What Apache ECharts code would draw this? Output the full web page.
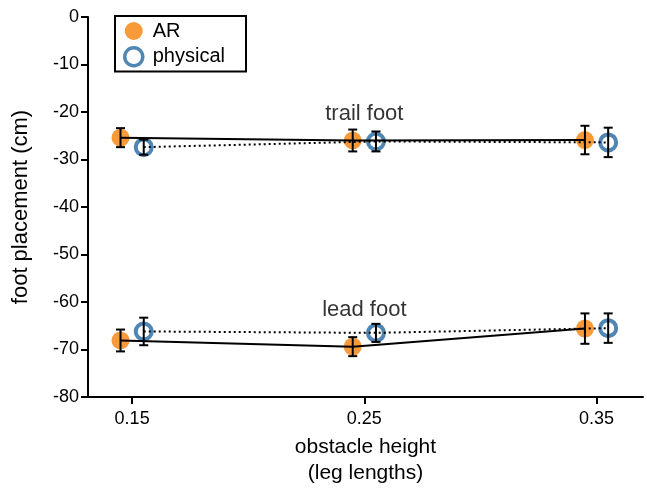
<!DOCTYPE html>
<html><head><meta charset="utf-8">
<script src="https://cdn.jsdelivr.net/npm/echarts@6/dist/echarts.min.js"></script>
<style>html,body{margin:0;padding:0;background:#fff}#c{width:647px;height:491px}</style>
</head><body><div id="c"></div>
<script>
// data
const heights = [0.15, 0.25, 0.35];
const xTicks = [0.15, 0.25, 0.35];
const yTicks = [0, -10, -20, -30, -40, -50, -60, -70, -80];
const arX = [0.145, 0.245, 0.345];
const physX = [0.155, 0.255, 0.355];
const arTrail = [-25.4, -26.0, -25.9];
const arTrailErr = [2.0, 2.3, 3.0];
const physTrail = [-27.4, -26.2, -26.4];
const physTrailErr = [1.6, 2.1, 3.1];
const arLead = [-68.1, -69.4, -65.6];
const arLeadErr = [2.3, 2.0, 3.2];
const physLead = [-66.2, -66.5, -65.5];
const physLeadErr = [2.9, 1.9, 3.1];
const annotations = [["trail foot", 0.25, -20.4], ["lead foot", 0.25, -61.7]];

const ORANGE = '#F99A3A', BLUE = '#4F86B3';
const FONT = '"Liberation Sans", Arial, Helvetica, sans-serif';

const pts = (xs, ys) => xs.map((x, i) => [x, ys[i]]);
const errs = (xs, ys, es) => xs.map((x, i) => [x, ys[i] - es[i], ys[i] + es[i]]);

function errSeries(data) {
  return {
    type: 'custom', z: 5, silent: true,
    renderItem: function (params, api) {
      const x = api.value(0);
      const lo = api.coord([x, api.value(1)]);
      const hi = api.coord([x, api.value(2)]);
      const w = 4.5;
      const st = { stroke: '#000', lineWidth: 2 };
      return { type: 'group', children: [
        { type: 'line', shape: { x1: lo[0], y1: lo[1], x2: hi[0], y2: hi[1] }, style: st },
        { type: 'line', shape: { x1: lo[0] - w, y1: lo[1], x2: lo[0] + w, y2: lo[1] }, style: st },
        { type: 'line', shape: { x1: hi[0] - w, y1: hi[1], x2: hi[0] + w, y2: hi[1] }, style: st }
      ]};
    },
    encode: { x: 0, y: [1, 2] },
    data: data
  };
}
function lineSeries(data, dotted) {
  return { type: 'line', z: 4, silent: true, symbol: 'none', data: data,
    lineStyle: { color: '#000', width: 2, type: dotted ? [2, 3] : 'solid' } };
}
function arScatter(data) {
  return { name: 'AR', type: 'scatter', z: 3, symbol: 'circle', symbolSize: 18, data: data,
    itemStyle: { color: ORANGE, opacity: 1 } };
}
function physScatter(data) {
  return { name: 'physical', type: 'scatter', z: 3, symbol: 'circle', symbolSize: 16, data: data,
    itemStyle: { color: 'rgba(255,255,255,0)', borderColor: BLUE, borderWidth: 4, opacity: 1 } };
}

const chart = echarts.init(document.getElementById('c'), null, { renderer: 'canvas' });
chart.setOption({
  animation: false,
  backgroundColor: '#fff',
  textStyle: { fontFamily: FONT },
  grid: { left: 88, right: 4, top: 17, bottom: 91, containLabel: false },
  legend: {
    left: 115, top: 16, orient: 'vertical',
    borderColor: '#000', borderWidth: 2, borderRadius: 0,
    padding: [5, 21, 4, 8], itemGap: 5, itemWidth: 18, itemHeight: 18,
    textStyle: { fontFamily: FONT, fontSize: 20, color: '#000', padding: [0, 0, 0, 5] },
    data: [
      { name: 'AR', icon: 'circle', itemStyle: { color: ORANGE, borderWidth: 0 } },
      { name: 'physical', icon: 'circle', itemStyle: { color: '#fff', borderColor: BLUE, borderWidth: 3.5 } }
    ],
    selectedMode: false
  },
  xAxis: {
    type: 'value', min: 0.131, max: 0.37,
    name: 'obstacle height\n(leg lengths)', nameLocation: 'middle', nameGap: 37,
    nameTextStyle: { fontFamily: FONT, fontSize: 21, color: '#000', lineHeight: 26 },
    axisLine: { show: true, onZero: false, lineStyle: { color: '#000', width: 2 } },
    axisTick: { show: true, inside: false, length: 7, lineStyle: { color: '#000', width: 2 }, customValues: xTicks },
    axisLabel: { color: '#000', fontSize: 18, fontFamily: FONT, margin: 13, customValues: xTicks,
      formatter: v => v.toFixed(2) },
    splitLine: { show: false }
  },
  yAxis: {
    type: 'value', min: -80, max: 0, interval: 10,
    name: 'foot placement (cm)', nameLocation: 'middle', nameGap: 56,
    nameTextStyle: { fontFamily: FONT, fontSize: 22, color: '#000' },
    axisLine: { show: true, onZero: false, lineStyle: { color: '#000', width: 2 } },
    axisTick: { show: true, inside: false, length: 7, lineStyle: { color: '#000', width: 2 } },
    axisLabel: { color: '#000', fontSize: 18, fontFamily: FONT, margin: 9 },
    splitLine: { show: false }
  },
  series: [
    arScatter(pts(arX, arTrail)),
    arScatter(pts(arX, arLead)),
    physScatter(pts(physX, physTrail)),
    physScatter(pts(physX, physLead)),
    lineSeries(pts(arX, arTrail), false),
    lineSeries(pts(arX, arLead), false),
    lineSeries(pts(physX, physTrail), true),
    lineSeries(pts(physX, physLead), true),
    errSeries(errs(arX, arTrail, arTrailErr)),
    errSeries(errs(arX, arLead, arLeadErr)),
    errSeries(errs(physX, physTrail, physTrailErr)),
    errSeries(errs(physX, physLead, physLeadErr)),
    {
      type: 'scatter', z: 6, silent: true, symbolSize: 0,
      data: annotations.map(a => ({ value: [a[1], a[2]], name: a[0] })),
      label: { show: true, position: [0, 0], align: 'center', verticalAlign: 'middle',
        formatter: p => p.name, fontFamily: FONT, fontSize: 22, color: '#000' }
    }
  ]
});
</script></body></html>
